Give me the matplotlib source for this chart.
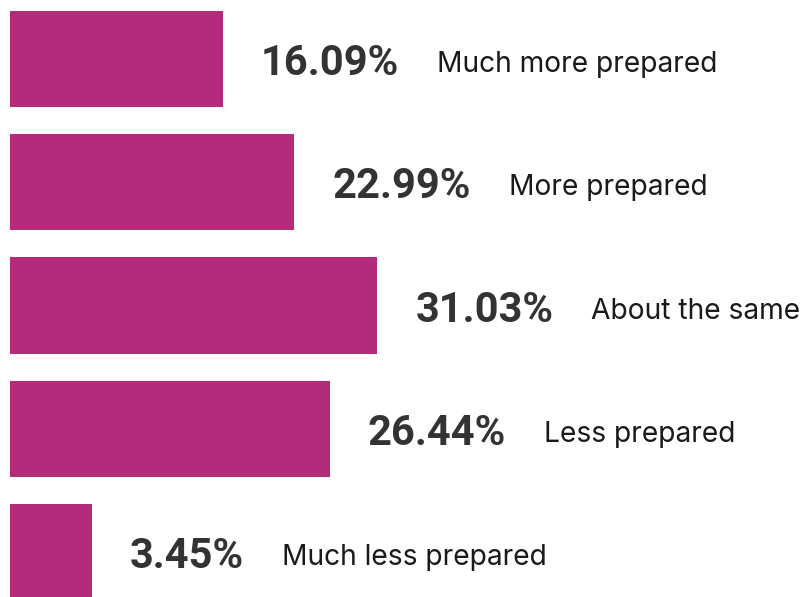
import matplotlib.pyplot as plt

# Survey answers and their shares (%)
answers = ['Much more prepared', 'More prepared', 'About the same', 'Less prepared', 'Much less prepared']
shares = [16.09, 22.99, 31.03, 26.44, 3.45]

bar_color = '#B52B7C'
base = -4.5  # bars start a little before zero so small values stay visible

fig = plt.figure(figsize=(8.02, 5.97), dpi=100)
ax = fig.add_axes([0, 0, 1, 1])

ypos = list(range(len(answers)))
ax.barh(ypos, [s - base for s in shares], left=base, height=0.78, color=bar_color)

ax.set_xlim(-5.46, 72.1)
ax.set_ylim(4.365, -0.479)
ax.axis('off')

for y, s, name in zip(ypos, shares, answers):
    pct = ax.annotate(f'{s:.2f}%', xy=(s, y), xytext=(38, -16), textcoords='offset pixels',
                      ha='left', va='baseline', fontsize=30, fontweight='bold',
                      family='Roboto', color='#333333')
    ax.annotate(name, xy=(1, 0), xycoords=pct, xytext=(38, 12), textcoords='offset pixels',
                ha='left', va='baseline', fontsize=20.3, family='Inter', color='#1a1a1a')

fig.savefig('out.png', dpi=100)
